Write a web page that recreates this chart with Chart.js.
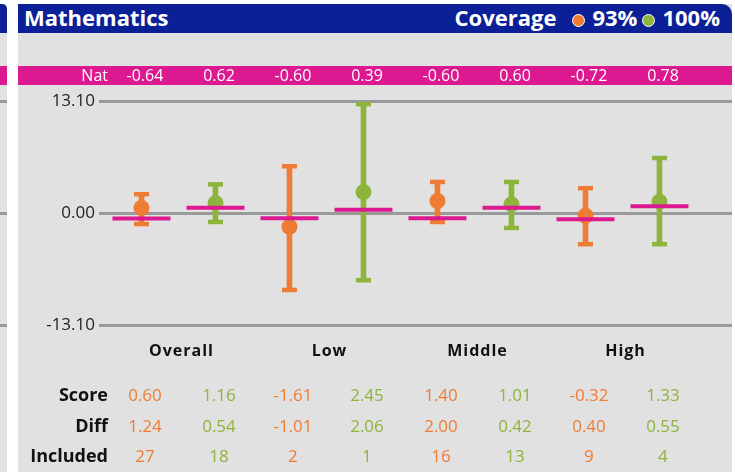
<!DOCTYPE html>
<html>
<head>
<meta charset="utf-8">
<script src="https://cdn.jsdelivr.net/npm/chart.js"></script>
<style>
  html, body { margin: 0; padding: 0; background: #fff; width: 735px; height: 472px; overflow: hidden; font-family: 'Open Sans', sans-serif; }
  .side { position: absolute; left: 0; top: 4px; width: 7px; height: 468px; background: #e1e1e1; }
  .side .hd { position: absolute; left: 0; top: 0; width: 7px; height: 29px; background: #0b2096; border-top-right-radius: 5px; }
  .side .band { position: absolute; left: 0; top: 62px; width: 7px; height: 19px; background: #dc1991; }
  .side .gl { position: absolute; left: 0; width: 7px; height: 3px; background: #9a9a9a; }
  .panel { position: absolute; left: 18px; top: 4px; width: 714px; height: 468px; background: #e1e1e1; }
  .header { position: absolute; left: 0; top: 0; width: 714px; height: 29px; background: #0b2096; border-top-right-radius: 10px; color: #fff; font-weight: 700; font-size: 22px; line-height: 29px; }
  .title { position: absolute; left: 6px; top: -1px; }
  .coverage { position: absolute; right: 12px; top: -1px; white-space: nowrap; }
  .dot { display: inline-block; width: 11px; height: 11px; border-radius: 50%; border: 1.5px solid #fff; vertical-align: -1px; margin: 0 7px 0 16px; }
  .dot.second { margin-left: 5px; }
  #chartWrap { position: absolute; left: 0; top: 29px; width: 714px; height: 439px; }
</style>
</head>
<body>
<div class="side">
  <div class="hd"></div>
  <div class="band"></div>
  <div class="gl" style="top:96px"></div>
  <div class="gl" style="top:208px"></div>
  <div class="gl" style="top:320px"></div>
</div>
<div class="panel">
  <div class="header">
    <span class="title">Mathematics</span>
    <span class="coverage">Coverage<span class="dot" style="background:#ee7c34"></span>93%<span class="dot second" style="background:#8db43c"></span>100%</span>
  </div>
  <div id="chartWrap"><canvas id="chart"></canvas></div>
</div>
<script>
const groups = ['Overall', 'Low', 'Middle', 'High'];
const rowLabels = ['Score', 'Diff', 'Included'];
const natValues = [-0.64, 0.62, -0.60, 0.39, -0.60, 0.60, -0.72, 0.78];
const scoreValues = [0.60, 1.16, -1.61, 2.45, 1.40, 1.01, -0.32, 1.33];
const diffValues = [1.24, 0.54, -1.01, 2.06, 2.00, 0.42, 0.40, 0.55];
const includedValues = [27, 18, 2, 1, 16, 13, 9, 4];
const upperValues = [2.20, 3.35, 5.47, 12.73, 3.63, 3.63, 2.90, 6.43];
const lowerValues = [-1.29, -1.05, -9.00, -7.86, -1.05, -1.75, -3.65, -3.65];
const yTicks = [-13.10, 0, 13.10];

const ORANGE = '#ee7c34';
const GREEN = '#8db43c';
const MAGENTA = '#dc1991';
const slotColors = natValues.map((v, i) => (i % 2 === 0 ? ORANGE : GREEN));

const fmt2 = (v) => v.toFixed(2);

// band, nat values, group names and the table under the plot
const tablePlugin = {
  id: 'tableText',
  beforeDatasetsDraw(chart) {
    const { ctx, scales: { x } } = chart;
    ctx.save();
    ctx.fillStyle = MAGENTA;
    ctx.fillRect(0, 33, chart.width, 19);
    ctx.fillStyle = '#fff';
    ctx.font = '16px "Open Sans"';
    ctx.textBaseline = 'middle';
    ctx.textAlign = 'right';
    ctx.fillText('Nat', 90, 43);
    ctx.textAlign = 'center';
    natValues.forEach((v, i) => {
      ctx.fillText(fmt2(v), x.getPixelForValue(i) + 3.5, 43);
    });
    ctx.restore();
  },
  afterDraw(chart) {
    const { ctx, scales: { x } } = chart;
    ctx.save();
    ctx.textBaseline = 'middle';
    ctx.fillStyle = '#111';
    ctx.font = 'bold 16px "Open Sans"';
    ctx.letterSpacing = '1px';
    ctx.textAlign = 'center';
    groups.forEach((g, k) => {
      const cx = (x.getPixelForValue(2 * k) + x.getPixelForValue(2 * k + 1)) / 2 + 3;
      ctx.fillText(g, cx, 318);
    });
    ctx.letterSpacing = '0px';
    ctx.font = 'bold 18px "Open Sans"';
    ctx.textAlign = 'right';
    const rowY = [363, 394, 424];
    rowLabels.forEach((r, k) => ctx.fillText(r, 90, rowY[k]));
    ctx.font = '17px "Open Sans"';
    ctx.textAlign = 'center';
    const rows = [scoreValues.map(fmt2), diffValues.map(fmt2), includedValues.map(String)];
    rows.forEach((vals, k) => {
      vals.forEach((t, i) => {
        ctx.fillStyle = slotColors[i];
        ctx.fillText(t, x.getPixelForValue(i) + 3.5, rowY[k]);
      });
    });
    ctx.restore();
  },
};

const idx = natValues.map((v, i) => i);

new Chart(document.getElementById('chart'), {
  type: 'bar',
  data: {
    datasets: [
      {
        type: 'scatter',
        order: 1,
        data: idx.map((i) => ({ x: i, y: natValues[i] })),
        pointStyle: 'line',
        radius: 29,
        borderWidth: 4,
        borderColor: MAGENTA,
        backgroundColor: MAGENTA,
      },
      {
        type: 'scatter',
        order: 2,
        data: idx.map((i) => ({ x: i, y: scoreValues[i] })),
        radius: 8,
        borderWidth: 0,
        backgroundColor: slotColors,
        borderColor: slotColors,
      },
      {
        type: 'scatter',
        order: 3,
        data: idx.map((i) => ({ x: i, y: upperValues[i] })),
        pointStyle: 'line',
        radius: 7.5,
        borderWidth: 4.5,
        borderColor: slotColors,
      },
      {
        type: 'scatter',
        order: 3,
        data: idx.map((i) => ({ x: i, y: lowerValues[i] })),
        pointStyle: 'line',
        radius: 7.5,
        borderWidth: 4.5,
        borderColor: slotColors,
      },
      {
        type: 'bar',
        order: 4,
        data: idx.map((i) => ({ x: i, y: [lowerValues[i], upperValues[i]] })),
        barThickness: 5,
        backgroundColor: slotColors,
        borderWidth: 0,
      },
    ],
  },
  options: {
    responsive: true,
    maintainAspectRatio: false,
    animation: false,
    layout: { autoPadding: false, padding: { left: 0, right: 0, top: 68, bottom: 147 } },
    plugins: {
      legend: { display: false },
      tooltip: { enabled: false },
    },
    scales: {
      x: {
        type: 'linear',
        display: false,
        offset: false,
        min: -0.574,
        max: 7.98,
      },
      y: {
        min: -13.1,
        max: 13.1,
        afterBuildTicks(scale) {
          scale.ticks = yTicks.map((v) => ({ value: v }));
        },
        afterFit(scale) {
          scale.width = 81;
        },
        border: { display: false },
        grid: {
          color: '#9a9a9a',
          lineWidth: 3,
          drawTicks: false,
        },
        ticks: {
          padding: 4,
          color: '#222',
          font: { family: 'Open Sans', size: 17 },
          callback: (v) => fmt2(v),
        },
      },
    },
  },
  plugins: [tablePlugin],
});
</script>
</body>
</html>
